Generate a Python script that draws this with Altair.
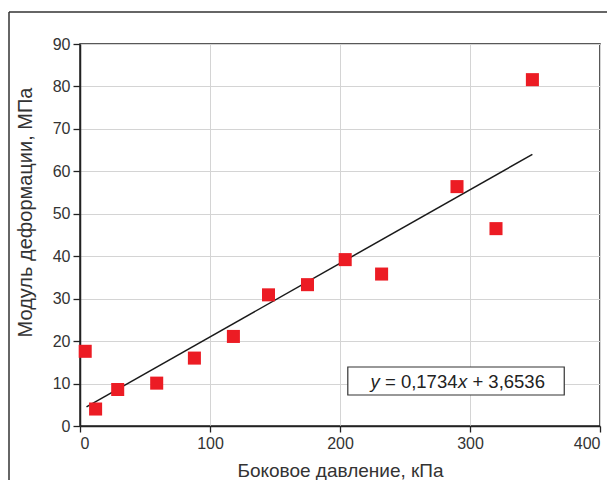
import altair as alt
import pandas as pd

# Data
pressure = [4, 12, 29, 59, 88, 118, 145, 175, 204, 232, 290, 320, 348]
modulus = [17.6, 4.0, 8.6, 10.1, 16.0, 21.1, 30.9, 33.3, 39.2, 35.8, 56.4, 46.5, 81.6]

trend_x = [5, 348]
trend_y = [4.52, 63.99]

eq_box_x = [206.0]
eq_box_x2 = [372.5]
eq_box_y = [7.3]
eq_box_y2 = [13.9]

eq_parts = ["y", "= 0,1734", "x", "+ 3,6536"]
eq_styles = ["italic", "normal", "italic", "normal"]

FONT = "Liberation Sans"
EQ_SIZE = 18.5

pts = pd.DataFrame({"x": pressure, "y": modulus})
trend = pd.DataFrame({"x": trend_x, "y": trend_y})
box = pd.DataFrame({"x": eq_box_x, "x2": eq_box_x2, "y": eq_box_y, "y2": eq_box_y2})

xs = alt.Scale(domain=[0, 400], nice=False)
ys = alt.Scale(domain=[0, 90], nice=False)

x_axis = alt.Axis(values=[0, 100, 200, 300, 400], title="Боковое давление, кПа",
                  grid=True, tickSize=6, labelPadding=3, titlePadding=10,
                  titleFontSize=19)
y_axis = alt.Axis(values=list(range(0, 91, 10)), title="Модуль деформации, МПа",
                  grid=True, tickSize=7, labelPadding=3,
                  titleFontSize=20, titleX=-49, titleY=168,
                  titleBaseline="alphabetic", titleAlign="center")

base_pts = alt.Chart(pts).mark_square(size=170, color="#ec1c24", opacity=1).encode(
    x=alt.X("x:Q", scale=xs, axis=x_axis),
    y=alt.Y("y:Q", scale=ys, axis=y_axis),
)

line = alt.Chart(trend).mark_line(color="#1a1a1a", strokeWidth=1.5).encode(
    x=alt.X("x:Q", scale=xs), y=alt.Y("y:Q", scale=ys)
)

rect = alt.Chart(box).mark_rect(fill="white", stroke="#333333", strokeWidth=1.2).encode(
    x=alt.X("x:Q", scale=xs), x2="x2:Q", y=alt.Y("y:Q", scale=ys), y2="y2:Q"
)

# glyph-run widths in em (Liberation Sans metrics) used to place the equation pieces
space = 0.278
w_eq1 = 0.584 + space + 0.556 + 0.278 + 4 * 0.556
offsets = [0.0,
           (0.5 + space) * EQ_SIZE,
           (0.5 + space + w_eq1 + 0.03) * EQ_SIZE,
           (0.5 + space + w_eq1 + 0.03 + 0.5 + space) * EQ_SIZE]

text_start_x = 223.5
text_base_y = 8.95
eq_layers = []
for part, style, off in zip(eq_parts, eq_styles, offsets):
    eq_layers.append(
        alt.Chart(pd.DataFrame({"x": [text_start_x], "y": [text_base_y], "t": [part]}))
        .mark_text(align="left", baseline="alphabetic", font=FONT, fontSize=EQ_SIZE,
                   fontStyle=style, color="#222222", dx=off)
        .encode(x=alt.X("x:Q", scale=xs), y=alt.Y("y:Q", scale=ys), text="t:N")
    )

frame_top = alt.Chart(pd.DataFrame({"a": [0]})).mark_rule(
    stroke="#333333", strokeWidth=1.5
).encode(x=alt.value(-71), x2=alt.value(540), y=alt.value(-32))
frame_left = alt.Chart(pd.DataFrame({"a": [0]})).mark_rule(
    stroke="#333333", strokeWidth=1.5
).encode(x=alt.value(-71), y=alt.value(-32), y2=alt.value(450))

chart = alt.layer(frame_top, frame_left, line, base_pts, rect, *eq_layers).properties(
    width=520, height=382,
    padding={"left": 72, "top": 36, "right": 7, "bottom": 56},
    autosize=alt.AutoSizeParams(type="none"),
).configure_view(
    stroke="#222222", strokeWidth=1.5
).configure_axis(
    labelFont=FONT, titleFont=FONT, labelFontSize=16,
    labelColor="#333333", titleColor="#333333", titleFontWeight="normal",
    domainColor="#222222", domainWidth=1.5, tickColor="#222222", tickWidth=1.3,
    gridColor="#d4d4d4", gridWidth=1,
)

chart.save("out.html", embed_options={"renderer": "svg", "actions": False})
